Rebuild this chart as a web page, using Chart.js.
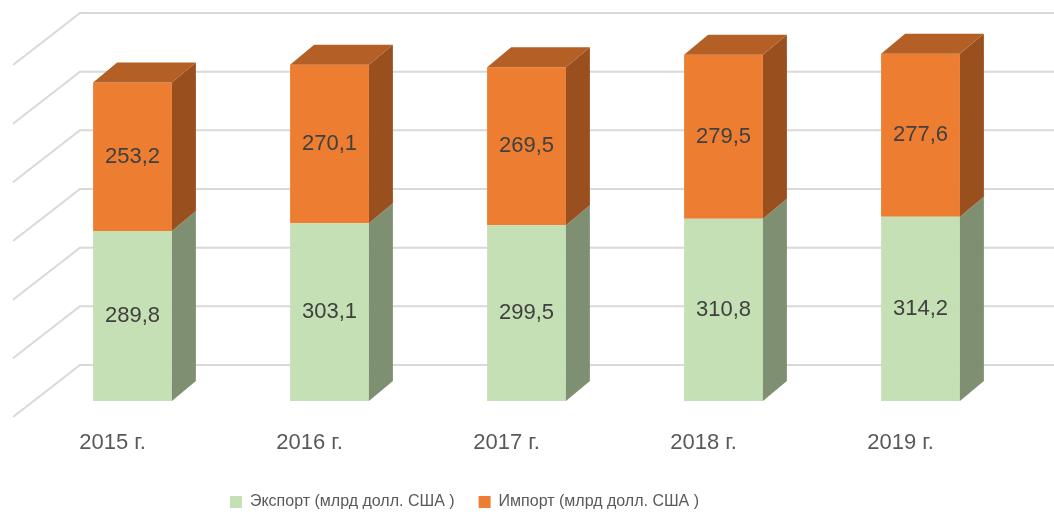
<!DOCTYPE html>
<html>
<head>
<meta charset="utf-8">
<script src="https://cdn.jsdelivr.net/npm/chart.js"></script>
<style>
  html, body { margin: 0; padding: 0; background: #fff; }
  #wrap { width: 1054px; height: 516px; }
</style>
</head>
<body>
<div id="wrap"><canvas id="chart"></canvas></div>
<script>
const years = ['2015 г.', '2016 г.', '2017 г.', '2018 г.', '2019 г.'];
const exportVals = [289.8, 303.1, 299.5, 310.8, 314.2];
const importVals = [253.2, 270.1, 269.5, 279.5, 277.6];
const gridTicks = [0, 100, 200, 300, 400, 500, 600];

// глубина 3D-эффекта
const DX = 24, DY = 20;
const FONT = '"Liberation Sans", Arial, sans-serif';
const LEGEND_SHIFT = -62;

const fmt = v => v.toFixed(1).replace('.', ',');

const sideColors = ['#7F8F72', '#9A4F1E'];
const topColors = ['#8FA380', '#B45F26'];

const box3d = {
  id: 'box3d',
  beforeDraw(chart) {
    // легенда в оригинале смещена влево
    const lg = chart.legend;
    if (lg && !lg._shifted) {
      const orig = lg.draw;
      lg.draw = function () {
        const c = this.ctx;
        c.save();
        c.translate(LEGEND_SHIFT, 0);
        orig.apply(this, arguments);
        c.restore();
      };
      lg._shifted = true;
    }
  },
  beforeDatasetsDraw(chart) {
    const { ctx, scales } = chart;
    const y = scales.y;
    ctx.save();
    ctx.strokeStyle = '#D9D9D9';
    ctx.lineWidth = 2;
    gridTicks.forEach(v => {
      const yb = y.getPixelForValue(v);
      ctx.beginPath();
      ctx.moveTo(13, yb + 16);
      ctx.lineTo(80, yb - 36);
      ctx.lineTo(chart.width, yb - 36);
      ctx.stroke();
    });
    ctx.restore();
  },
  afterDatasetsDraw(chart) {
    const { ctx } = chart;
    const n = chart.data.datasets.length;
    ctx.save();
    for (let d = 0; d < n; d++) {
      const meta = chart.getDatasetMeta(d);
      meta.data.forEach(bar => {
        const r = bar.x + bar.width / 2;
        const l = bar.x - bar.width / 2;
        const top = Math.min(bar.y, bar.base);
        const bot = Math.max(bar.y, bar.base);
        ctx.fillStyle = sideColors[d];
        ctx.beginPath();
        ctx.moveTo(r, top);
        ctx.lineTo(r + DX, top - DY);
        ctx.lineTo(r + DX, bot - DY);
        ctx.lineTo(r, bot);
        ctx.closePath();
        ctx.fill();
        if (d === n - 1) {
          ctx.fillStyle = topColors[d];
          ctx.beginPath();
          ctx.moveTo(l, top);
          ctx.lineTo(l + DX, top - DY);
          ctx.lineTo(r + DX, top - DY);
          ctx.lineTo(r, top);
          ctx.closePath();
          ctx.fill();
        }
      });
    }
    // подписи значений
    ctx.fillStyle = '#404040';
    ctx.font = '22px ' + FONT;
    ctx.textAlign = 'center';
    ctx.textBaseline = 'middle';
    for (let d = 0; d < n; d++) {
      const meta = chart.getDatasetMeta(d);
      meta.data.forEach((bar, i) => {
        const v = chart.data.datasets[d].data[i];
        ctx.fillText(fmt(v), bar.x, (bar.y + bar.base) / 2);
      });
    }
    ctx.restore();
  }
};

new Chart(document.getElementById('chart'), {
  type: 'bar',
  data: {
    labels: years,
    datasets: [
      { label: 'Экспорт (млрд долл. США )', data: exportVals, backgroundColor: '#C5E0B4' },
      { label: 'Импорт (млрд долл. США )', data: importVals, backgroundColor: '#ED7D31' }
    ]
  },
  options: {
    responsive: true,
    maintainAspectRatio: false,
    animation: false,
    layout: { padding: { left: 34, right: 35, top: 49, bottom: 0 } },
    datasets: { bar: { barPercentage: 0.4, categoryPercentage: 1 } },
    scales: {
      x: {
        stacked: true,
        grid: { display: false, drawTicks: false },
        border: { display: false },
        ticks: {
          color: '#595959',
          font: { size: 22, family: FONT },
          padding: 29,
          labelOffset: -20
        },
        afterFit(scale) { scale.height = 69; }
      },
      y: {
        stacked: true,
        display: false,
        min: 0,
        max: 600
      }
    },
    plugins: {
      legend: {
        position: 'bottom',
        maxHeight: 46,
        labels: {
          color: '#595959',
          font: { size: 16, family: FONT },
          boxWidth: 12,
          boxHeight: 12,
          padding: 24
        }
      },
      tooltip: { enabled: false }
    }
  },
  plugins: [box3d]
});
</script>
</body>
</html>
